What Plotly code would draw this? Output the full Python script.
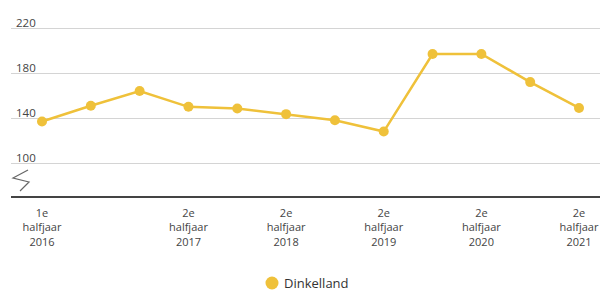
import plotly.graph_objects as go

categories = ["1e halfjaar 2016", "2e halfjaar 2016", "1e halfjaar 2017", "2e halfjaar 2017",
              "1e halfjaar 2018", "2e halfjaar 2018", "1e halfjaar 2019", "2e halfjaar 2019",
              "1e halfjaar 2020", "2e halfjaar 2020", "1e halfjaar 2021", "2e halfjaar 2021"]
values = [137, 151, 164, 150, 148.5, 143.5, 138, 128, 197, 197, 172, 149]
series_name = "Dinkelland"
tick_cats = ["1e halfjaar 2016", "2e halfjaar 2017", "2e halfjaar 2018",
             "2e halfjaar 2019", "2e halfjaar 2020", "2e halfjaar 2021"]
tick_text = ["1e<br>halfjaar<br>2016", "2e<br>halfjaar<br>2017", "2e<br>halfjaar<br>2018",
             "2e<br>halfjaar<br>2019", "2e<br>halfjaar<br>2020", "2e<br>halfjaar<br>2021"]
y_ticks = [100, 140, 180, 220]

color = "#EFC13A"
font = "Open Sans"

fig = go.Figure()
fig.add_trace(go.Scatter(
    x=categories, y=values, name=series_name, mode="lines+markers",
    line=dict(color=color, width=2.5),
    marker=dict(color=color, size=10),
    showlegend=False,
))

fig.update_layout(
    width=600, height=292,
    margin=dict(l=11, r=0, t=0, b=96),
    paper_bgcolor="white", plot_bgcolor="white",
    font=dict(family=font, size=12, color="#444"),
    showlegend=False,
    xaxis=dict(
        type="category", range=[-0.635, 11.43], automargin=False,
        tickmode="array", tickvals=tick_cats, ticktext=tick_text,
        showgrid=False, showline=True, linecolor="#444", linewidth=1.5,
        ticks="", tickfont=dict(size=11, color="#444"), ticklabelstandoff=6,
    ),
    yaxis=dict(
        range=[70.7, 245], tickmode="array", tickvals=y_ticks, automargin=False,
        showticklabels=False, showgrid=True, gridcolor="#d4d4d4", gridwidth=1,
        zeroline=False, showline=False,
    ),
)

for v in y_ticks:
    fig.add_annotation(x=0.005, xref="paper", y=v, yref="y", text=str(v),
                       showarrow=False, xanchor="left", yanchor="middle", yshift=6,
                       font=dict(size=11.5, color="#444"))

# axis break symbol
fig.add_shape(type="path", xref="paper", yref="paper",
              path="M 0.0289 0.1327 L 0.0034 0.0918 L 0.0306 0.0714 L 0.0153 0.0255",
              line=dict(color="#666", width=1.2))

# legend (marker + label)
leg_x, leg_y = 0.4431, -0.4439
fig.add_shape(type="circle", xref="paper", yref="paper",
              xsizemode="pixel", ysizemode="pixel", xanchor=leg_x, yanchor=leg_y,
              x0=-6.5, x1=6.5, y0=-6.5, y1=6.5,
              fillcolor=color, line=dict(width=0))
fig.add_annotation(x=0.4601, xref="paper", y=leg_y, yref="paper", text=series_name,
                   showarrow=False, xanchor="left", yanchor="middle",
                   font=dict(size=13, color="#333"))

fig.write_html("out.html", config={"displayModeBar": False},
               post_script="document.body.style.margin='0';document.body.style.overflow='hidden';")
